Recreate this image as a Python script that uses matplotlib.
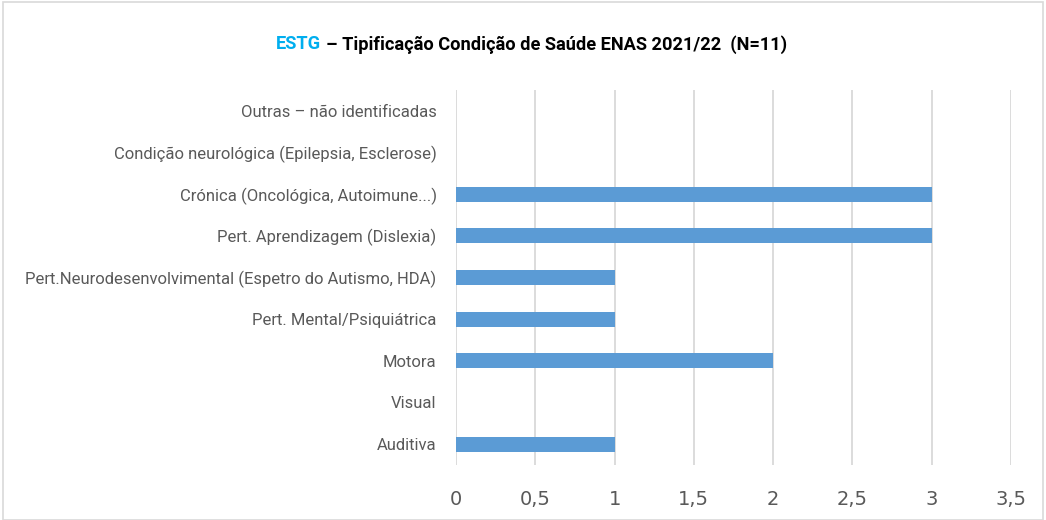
import matplotlib.pyplot as plt
from matplotlib.patches import Rectangle

categories = [
    "Auditiva",
    "Visual",
    "Motora",
    "Pert. Mental/Psiquiátrica",
    "Pert.Neurodesenvolvimental (Espetro do Autismo, HDA)",
    "Pert. Aprendizagem (Dislexia)",
    "Crónica (Oncológica, Autoimune...)",
    "Condição neurológica (Epilepsia, Esclerose)",
    "Outras – não identificadas",
]
values = [1, 0, 2, 1, 1, 3, 3, 0, 0]
xticks = [0, 0.5, 1, 1.5, 2, 2.5, 3, 3.5]
xtick_labels = ["0", "0,5", "1", "1,5", "2", "2,5", "3", "3,5"]

bar_color = "#5B9BD5"
grid_color = "#D9D9D9"
text_color = "#595959"
font = ["Roboto", "DejaVu Sans"]

fig = plt.figure(figsize=(10.46, 5.2), dpi=100)
ax = fig.add_axes([0.436, 0.106, 0.5305, 0.721])

ax.barh(range(len(categories)), values, height=0.36, color=bar_color, zorder=3)
ax.set_xlim(0, 3.5)
ax.set_ylim(-0.5, len(categories) - 0.5)
ax.set_xticks(xticks)
ax.set_xticklabels(xtick_labels, fontsize=14, color=text_color)
ax.set_yticks(range(len(categories)))
ylabels = ax.set_yticklabels(categories, fontsize=12, color=text_color, family=font)
ax.tick_params(axis="both", length=0)
ax.tick_params(axis="y", pad=14)
ax.tick_params(axis="x", pad=18)
ax.grid(axis="x", color=grid_color, linewidth=1.3, zorder=0)
for s in ax.spines.values():
    s.set_visible(False)

# fit the longest category label to ~410 px like the reference
fig.canvas.draw()
r = fig.canvas.get_renderer()
widest = max(t.get_window_extent(renderer=r).width for t in ylabels)
ysize = 12 * 410 / widest
for t in ylabels:
    t.set_fontsize(ysize)

# title in two colours, total width ~512 px
t1 = fig.text(0, 0.915, "ESTG", fontsize=14, fontweight="bold",
              color="#00AEEF", family=font, va="center")
t2 = fig.text(0, 0.915, "– Tipificação Condição de Saúde ENAS 2021/22  (N=11)",
              fontsize=14, fontweight="bold", color="black", family=font, va="center")
w1 = t1.get_window_extent(renderer=r).width
w2 = t2.get_window_extent(renderer=r).width
scale = 512 / (w1 + w2 + 5)
t1.set_fontsize(14 * scale)
t2.set_fontsize(14 * scale)
x0 = 276
t1.set_x(x0 / fig.bbox.width)
t2.set_x((x0 + w1 * scale + 5) / fig.bbox.width)

fig.patches.append(Rectangle((0.003, 0.0), 0.994, 0.997, transform=fig.transFigure,
                             fill=False, edgecolor=grid_color, linewidth=1.2))

fig.savefig("out.png", dpi=100)
